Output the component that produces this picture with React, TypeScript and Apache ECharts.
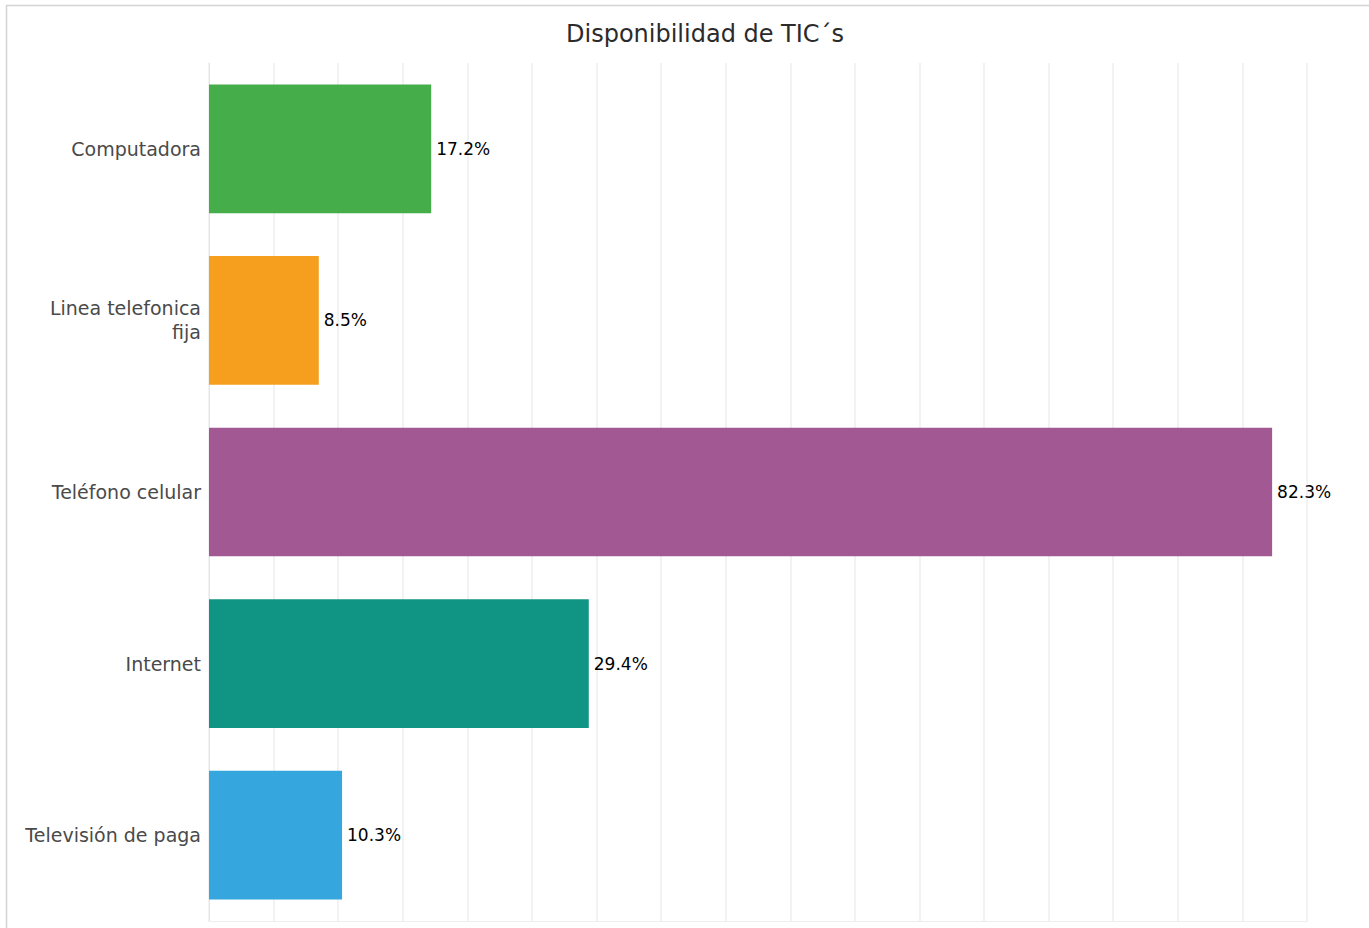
import React, { useEffect, useRef } from "react";
import * as echarts from "echarts";

const categories = ["Computadora", "Linea telefonica\nfija", "Teléfono celular", "Internet", "Televisión de paga"];
const values = [17.2, 8.5, 82.3, 29.4, 10.3];
const colors = ["#45AD4A", "#F69F1F", "#A25892", "#109483", "#35A7DE"];
const titleText = "Disponibilidad de TIC´s";

const FONT = "'DejaVu Sans', 'Open Sans', sans-serif";

export default function App() {
  const ref = useRef<HTMLDivElement>(null);
  useEffect(() => {
    if (!ref.current) return;
    const chart = echarts.init(ref.current, null, { renderer: "svg" });
    chart.setOption({
      animation: false,
      backgroundColor: "#ffffff",
      textStyle: { fontFamily: FONT },
      title: {
        text: titleText,
        left: 561,
        top: 17,
        textStyle: { fontSize: 24, fontWeight: "normal", color: "#2b2b2b", fontFamily: FONT },
      },
      graphic: [
        {
          type: "rect",
          shape: { x: 6.5, y: 5.5, width: 1400, height: 940 },
          style: { fill: "none", stroke: "#d4d4d4", lineWidth: 1.5 },
          silent: true,
          z: -1,
        },
      ],
      grid: { left: 209, right: 62, top: 63, bottom: 7, containLabel: false },
      xAxis: {
        type: "value",
        min: 0,
        max: 85,
        interval: 5,
        axisLabel: { show: false },
        axisTick: { show: false },
        axisLine: { show: true, lineStyle: { color: "#eeeeee" } },
        splitLine: { show: true, lineStyle: { color: "#eeeeee", width: 1.5 } },
      },
      yAxis: {
        type: "category",
        data: categories,
        inverse: true,
        axisTick: { show: false },
        axisLine: { show: true, lineStyle: { color: "#e6e6e6" } },
        axisLabel: {
          color: "#4a4a4a",
          fontSize: 19,
          margin: 8,
          align: "right",
          lineHeight: 24,
          fontFamily: FONT,
        },
      },
      series: [
        {
          type: "bar",
          barWidth: "75%",
          data: values.map((v, i) => ({ value: v, itemStyle: { color: colors[i] } })),
          label: {
            show: true,
            position: "right",
            distance: 5,
            color: "#000000",
            fontSize: 17,
            fontFamily: FONT,
            formatter: (p: any) => `${Number(p.value).toFixed(1)}%`,
          },
        },
      ],
    });
    return () => chart.dispose();
  }, []);
  return (
    <div
      ref={ref}
      style={{ position: "fixed", left: 0, top: 0, width: 1369, height: 928, background: "#fff" }}
    />
  );
}
